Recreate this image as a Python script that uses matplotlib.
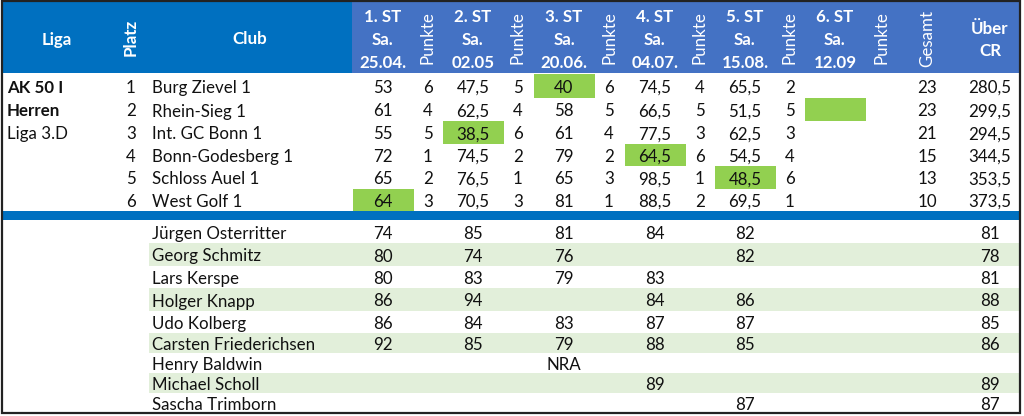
import matplotlib
matplotlib.use("Agg")
import matplotlib.pyplot as plt
from matplotlib.patches import Rectangle

# ---------------- data ----------------
liga_lines = ["AK 50 I", "Herren", "Liga 3.D"]
liga_bold = [True, True, False]
platz = [1, 2, 3, 4, 5, 6]
clubs = ["Burg Zievel 1", "Rhein-Sieg 1", "Int. GC Bonn 1", "Bonn-Godesberg 1",
         "Schloss Auel 1", "West Golf 1"]
round_titles = ["1. ST", "2. ST", "3. ST", "4. ST", "5. ST", "6. ST"]
round_dates = ["25.04.", "02.05", "20.06.", "04.07.", "15.08.", "12.09"]
st1 = [53, 61, 55, 72, 65, 64]
st2 = [47.5, 62.5, 38.5, 74.5, 76.5, 70.5]
st3 = [40, 58, 61, 79, 65, 81]
st4 = [74.5, 66.5, 77.5, 64.5, 98.5, 88.5]
st5 = [65.5, 51.5, 62.5, 54.5, 48.5, 69.5]
st6 = [None, None, None, None, None, None]
pk1 = [6, 4, 5, 1, 2, 3]
pk2 = [5, 4, 6, 2, 1, 3]
pk3 = [6, 5, 4, 2, 3, 1]
pk4 = [4, 5, 3, 6, 1, 2]
pk5 = [2, 5, 3, 4, 6, 1]
pk6 = [None, None, None, None, None, None]
best_row = [5, 2, 0, 3, 4, 1]          # highlighted (best) cell per round
gesamt = [23, 23, 21, 15, 13, 10]
ueber_cr = [280.5, 299.5, 294.5, 344.5, 353.5, 373.5]

players = ["Jürgen Osterritter", "Georg Schmitz", "Lars Kerspe", "Holger Knapp",
           "Udo Kolberg", "Carsten Friederichsen", "Henry Baldwin",
           "Michael Scholl", "Sascha Trimborn"]
p_st1 = [74, 80, 80, 86, 86, 92, None, None, None]
p_st2 = [85, 74, 83, 94, 84, 85, None, None, None]
p_st3 = [81, 76, 79, None, 83, 79, "NRA", None, None]
p_st4 = [84, None, 83, 84, 87, 88, None, 89, None]
p_st5 = [82, 82, None, 86, 87, 85, None, None, 87]
p_cr = [81, 78, 81, 88, 85, 86, None, 89, 87]

# ---------------- layout ----------------
W, H = 1024, 416
FONT = ["Lato", "DejaVu Sans"]
FS = 12.2
DARK_BLUE = "#0070C0"
LIGHT_BLUE = "#4472C4"
GREEN = "#92D050"
BAND = "#E2EFDA"
TXT = "#111111"

x_left, x_right = 2.5, 1019.5
header_top, header_bot = 2, 73
split_x = 352
st_x = [383, 473, 564, 655, 745, 835]
pk_x = [428, 518, 609, 700, 790, 882]
ges_x = 927
cr_x = 990
platz_x = 131
club_x = 152
liga_cx = 57
club_cx = 250
cell_w = 61
team_bounds = [74, 98, 121, 143.5, 166, 188.5, 211]
sep_top, sep_bot = 211, 220
player_bounds = [221, 243, 266, 288, 311, 333, 353, 373, 393, 412]
DY = 0.5


def fmt(v):
    if v is None:
        return ""
    if isinstance(v, str):
        return v
    if float(v).is_integer():
        return str(int(v))
    return f"{v:.1f}".replace(".", ",")


fig = plt.figure(figsize=(W / 100, H / 100), dpi=100)
ax = fig.add_axes([0, 0, 1, 1])
ax.set_xlim(0, W)
ax.set_ylim(H, 0)
ax.axis("off")


def txt(x, y, s, ha="center", bold=False, color=TXT, rot=0, size=FS):
    ax.text(x, y, s, ha=ha, va="center_baseline", rotation=rot,
            fontsize=size, fontweight="bold" if bold else "normal",
            color=color, family=FONT)

# header backgrounds
ax.add_patch(Rectangle((x_left, header_top), split_x - x_left, header_bot - header_top,
                       color=DARK_BLUE, lw=0))
ax.add_patch(Rectangle((split_x, header_top), x_right - split_x, header_bot - header_top,
                       color=LIGHT_BLUE, lw=0))
# header texts
hy = 38
txt(liga_cx, hy, "Liga", bold=True, color="white")
txt(club_cx, hy, "Club", bold=True, color="white")
ax.text(platz_x, hy - 1, "Platz", ha="center", va="center", rotation=90,
        fontsize=FS, fontweight="bold", color="white", family=FONT)
for i in range(6):
    txt(st_x[i], 15.5, round_titles[i], bold=True, color="white")
    txt(st_x[i], 38.5, "Sa.", bold=True, color="white")
    txt(st_x[i], 62, round_dates[i], bold=True, color="white")
    ax.text(pk_x[i], 38, "Punkte", ha="center", va="center", rotation=90,
            fontsize=FS, color="white", family=FONT)
ax.text(ges_x, 38, "Gesamt", ha="center", va="center", rotation=90,
        fontsize=FS, color="white", family=FONT)
txt(cr_x, 27, "Über", bold=True, color="white")
txt(cr_x, 50, "CR", bold=True, color="white")

# team rows
rounds = [st1, st2, st3, st4, st5, st6]
points = [pk1, pk2, pk3, pk4, pk5, pk6]
for r in range(6):
    b = best_row[r]
    y0, y1 = team_bounds[b], team_bounds[b + 1]
    ax.add_patch(Rectangle((st_x[r] - cell_w / 2, y0), cell_w, y1 - y0, color=GREEN, lw=0))

for i in range(6):
    yc = (team_bounds[i] + team_bounds[i + 1]) / 2 + DY
    if i < len(liga_lines):
        txt(7, yc, liga_lines[i], ha="left", bold=liga_bold[i])
    txt(platz_x, yc, str(platz[i]))
    txt(club_x, yc, clubs[i], ha="left")
    for r in range(6):
        txt(st_x[r], yc, fmt(rounds[r][i]))
        txt(pk_x[r], yc, fmt(points[r][i]))
    txt(ges_x, yc, fmt(gesamt[i]))
    txt(cr_x, yc, fmt(ueber_cr[i]))

# separator
ax.add_patch(Rectangle((x_left, sep_top), x_right - x_left, sep_bot - sep_top,
                       color=DARK_BLUE, lw=0))

# player rows
p_rounds = [p_st1, p_st2, p_st3, p_st4, p_st5]
for i, name in enumerate(players):
    y0, y1 = player_bounds[i], player_bounds[i + 1]
    if i % 2 == 1:
        ax.add_patch(Rectangle((149, y0), x_right - 149, y1 - y0, color=BAND, lw=0))
    yc = (y0 + y1) / 2 + DY
    txt(club_x, yc, name, ha="left")
    for r in range(5):
        txt(st_x[r], yc, fmt(p_rounds[r][i]))
    txt(cr_x, yc, fmt(p_cr[i]))

# outer frame
ax.add_patch(Rectangle((x_left - 0.5, 1), x_right - x_left + 1, 411.5, fill=False,
                       edgecolor="#222222", lw=1.6))

fig.savefig("out.png", dpi=100)
